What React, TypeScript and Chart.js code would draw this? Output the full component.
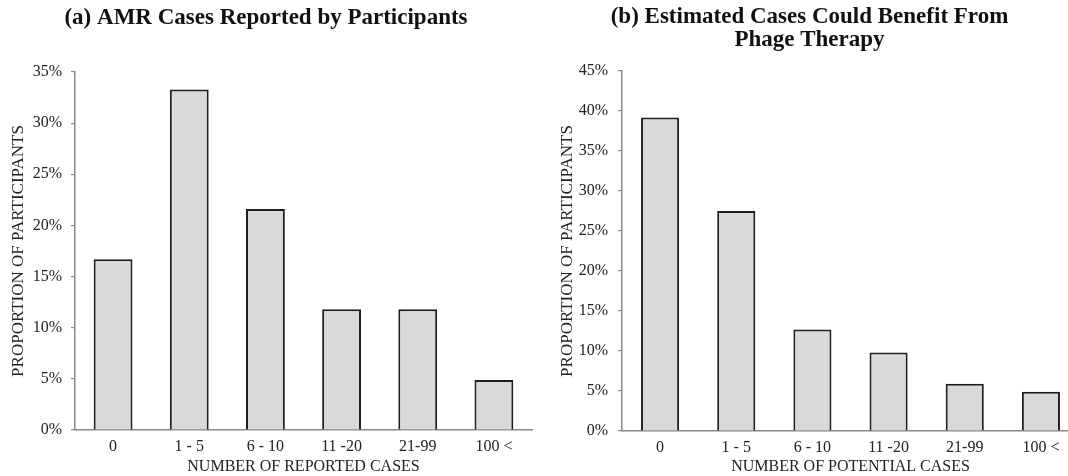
import React, { useEffect, useRef } from "react";
import { Chart, registerables } from "chart.js";

Chart.register(...registerables);

const categories = ["0", "1 - 5", "6 - 10", "11 -20", "21-99", "100 <"];
const reportedShare = [16.7, 33.3, 21.6, 11.8, 11.8, 4.9];
const potentialShare = [39.2, 27.5, 12.7, 9.8, 5.9, 4.9];
const reportedMax = 35;
const potentialMax = 45;
const tickStep = 5;
const titleA = "(a) AMR Cases Reported by Participants";
const titleB = ["(b) Estimated Cases Could Benefit From", "Phage Therapy"];
const xTitleA = "NUMBER OF REPORTED CASES";
const xTitleB = "NUMBER OF POTENTIAL CASES";
const yTitle = "PROPORTION OF PARTICIPANTS";

const FONT = "'Liberation Serif', 'Times New Roman', serif";
const AXIS = "#8a8a8a";

type PanelProps = {
  left: number;
  width: number;
  title: string | string[];
  values: number[];
  max: number;
  xTitle: string;
  yAxisWidth: number;
  xAxisHeight: number;
  titlePadding: { top: number; bottom: number };
  yTitlePad: number;
  padRight: number;
  barPct: number;
  yTickPad: number;
};

function BarPanel(p: PanelProps) {
  const ref = useRef<HTMLCanvasElement>(null);
  useEffect(() => {
    const chart = new Chart(ref.current as HTMLCanvasElement, {
      type: "bar",
      data: {
        labels: categories,
        datasets: [
          {
            data: p.values,
            backgroundColor: "#d9d9d9",
            borderColor: "#1e1e1e",
            borderWidth: 2,
            barPercentage: p.barPct,
            categoryPercentage: 1,
          },
        ],
      },
      options: {
        responsive: false,
        animation: false,
        layout: { padding: { left: 0, right: p.padRight, top: 0, bottom: 0 } },
        plugins: {
          legend: { display: false },
          tooltip: { enabled: false },
          title: {
            display: true,
            text: p.title,
            color: "#111",
            font: { family: FONT, size: 23, weight: "bold", lineHeight: 1.0 },
            padding: p.titlePadding,
          },
        },
        scales: {
          x: {
            grid: { display: true, drawOnChartArea: false, drawTicks: false },
            border: { display: true, color: AXIS, width: 1.5 },
            ticks: {
              color: "#222",
              font: { family: FONT, size: 16 },
              padding: 7,
              maxRotation: 0,
              autoSkip: false,
            },
            title: {
              display: true,
              text: p.xTitle,
              color: "#222",
              font: { family: FONT, size: 16, lineHeight: 1.2 },
              padding: { top: 0, bottom: 0 },
            },
            afterFit: (s: any) => {
              s.height = p.xAxisHeight;
            },
          },
          y: {
            min: 0,
            max: p.max,
            ticks: {
              stepSize: tickStep,
              callback: (v: any) => v + "%",
              color: "#222",
              font: { family: FONT, size: 16 },
              padding: p.yTickPad,
            },
            grid: {
              drawOnChartArea: false,
              drawTicks: true,
              tickLength: 4,
              color: AXIS,
              lineWidth: 1.2,
            },
            border: { display: true, color: AXIS, width: 1.5 },
            title: {
              display: true,
              text: yTitle,
              color: "#222",
              font: { family: FONT, size: 17, lineHeight: 1.2 },
              padding: { top: p.yTitlePad, bottom: 0 },
            },
            afterFit: (s: any) => {
              s.width = p.yAxisWidth;
            },
          },
        },
      },
    } as any);
    return () => chart.destroy();
  }, []);
  return (
    <canvas
      ref={ref}
      width={p.width}
      height={476}
      style={{ position: "absolute", left: p.left, top: 0, width: p.width, height: 476 }}
    />
  );
}

export default function App() {
  return (
    <div
      style={{
        position: "fixed",
        left: 0,
        top: 0,
        width: 1068,
        height: 476,
        overflow: "hidden",
        background: "#fff",
      }}
    >
      <BarPanel
        left={0}
        width={540}
        title={titleA}
        values={reportedShare}
        max={reportedMax}
        xTitle={xTitleA}
        yAxisWidth={75}
        xAxisHeight={46}
        titlePadding={{ top: 7, bottom: 42 }}
        yTitlePad={8}
        padRight={8}
        barPct={0.51}
        yTickPad={9}
      />
      <BarPanel
        left={540}
        width={548}
        title={titleB}
        values={potentialShare}
        max={potentialMax}
        xTitle={xTitleB}
        yAxisWidth={82}
        xAxisHeight={45}
        titlePadding={{ top: 6, bottom: 19 }}
        yTitlePad={17}
        padRight={9}
        barPct={0.5}
        yTickPad={10}
      />
    </div>
  );
}
